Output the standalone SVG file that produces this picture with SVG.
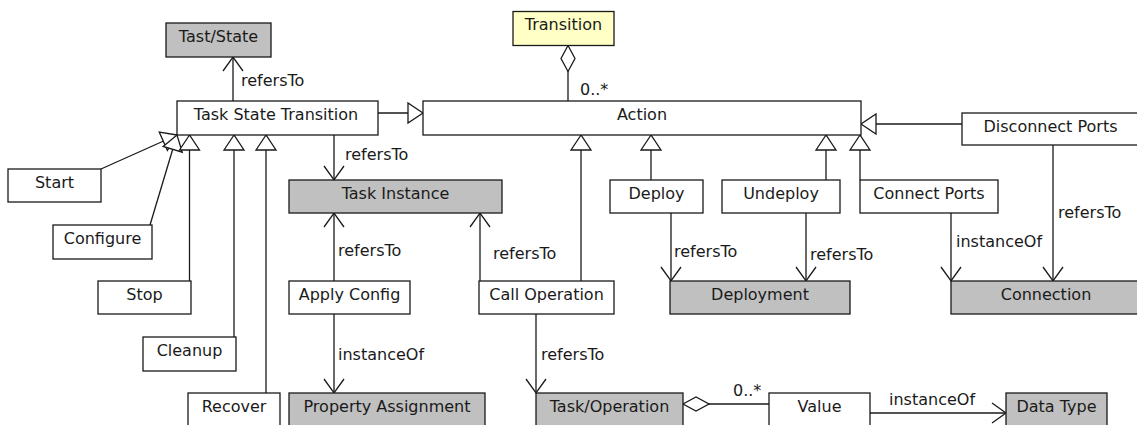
<svg xmlns="http://www.w3.org/2000/svg" width="1137" height="425" viewBox="0 0 1137 425">
  <style>
    .box { fill: #ffffff; stroke: #1a1a1a; stroke-width: 1.3; }
    .ext { fill: #c0c0c0; }
    .trans { fill: #ffffc6; }
    .name { font-family: "DejaVu Sans", sans-serif; font-size: 16px; fill: #1a1a1a; text-anchor: middle; }
    .lbl { font-family: "DejaVu Sans", sans-serif; font-size: 16px; fill: #1a1a1a; }
    .edge { fill: none; stroke: #1a1a1a; stroke-width: 1.3; }
    .ref { marker-end: url(#open); }
    .gen { marker-end: url(#tri); }
    .agg { marker-start: url(#dia); }
  </style>
  <defs>
    <marker id="open" markerUnits="userSpaceOnUse" orient="auto" refX="0" refY="0" markerWidth="30" markerHeight="30" overflow="visible">
      <path d="M-14,-10 L0,0 L-14,10" fill="none" stroke="#1a1a1a" stroke-width="1.3"/>
    </marker>
    <marker id="tri" markerUnits="userSpaceOnUse" orient="auto" refX="0" refY="0" markerWidth="30" markerHeight="30" overflow="visible">
      <path d="M0,0 L-15,-10 L-15,10 Z" fill="#ffffff" stroke="#1a1a1a" stroke-width="1.3"/>
    </marker>
    <marker id="dia" markerUnits="userSpaceOnUse" orient="auto" refX="0" refY="0" markerWidth="30" markerHeight="30" overflow="visible">
      <path d="M0,0 L13,-7 L26,0 L13,7 Z" fill="#ffffff" stroke="#1a1a1a" stroke-width="1.3"/>
    </marker>
  </defs>

  <g id="connectors">
    <!-- references -->
    <line class="edge ref" x1="233" y1="101" x2="233" y2="57"/>
    <line class="edge ref" x1="334" y1="135" x2="334" y2="180"/>
    <line class="edge ref" x1="334" y1="281" x2="334" y2="213"/>
    <line class="edge ref" x1="334" y1="314" x2="334" y2="393"/>
    <line class="edge ref" x1="480" y1="281" x2="480" y2="213"/>
    <line class="edge ref" x1="536" y1="314" x2="536" y2="393"/>
    <line class="edge ref" x1="671" y1="213" x2="671" y2="281"/>
    <line class="edge ref" x1="806" y1="213" x2="806" y2="281"/>
    <line class="edge ref" x1="951" y1="213" x2="951" y2="281"/>
    <line class="edge ref" x1="1053" y1="145" x2="1053" y2="281"/>
    <line class="edge ref" x1="870" y1="413" x2="1006" y2="413"/>
    <!-- generalizations -->
    <line class="edge gen" x1="378" y1="113" x2="423" y2="113"/>
    <line class="edge gen" x1="101" y1="169" x2="177" y2="135"/>
    <line class="edge gen" x1="150" y1="225" x2="177" y2="135"/>
    <line class="edge gen" x1="189.5" y1="281" x2="189.5" y2="135"/>
    <line class="edge gen" x1="234" y1="337" x2="234" y2="135"/>
    <line class="edge gen" x1="266" y1="393" x2="266" y2="135"/>
    <line class="edge gen" x1="581" y1="281" x2="581" y2="135"/>
    <line class="edge gen" x1="651" y1="180" x2="651" y2="135"/>
    <line class="edge gen" x1="826" y1="180" x2="826" y2="135"/>
    <line class="edge gen" x1="860" y1="180" x2="860" y2="135"/>
    <line class="edge gen" x1="962" y1="124" x2="861" y2="124"/>
    <!-- aggregations -->
    <line class="edge agg" x1="568" y1="45.5" x2="568" y2="101"/>
    <line class="edge agg" x1="683" y1="404" x2="769" y2="404"/>
    <!-- labels -->
    <text class="lbl" x="241" y="86">refersTo</text>
    <text class="lbl" x="345" y="160">refersTo</text>
    <text class="lbl" x="338" y="256">refersTo</text>
    <text class="lbl" x="338" y="360">instanceOf</text>
    <text class="lbl" x="493" y="259">refersTo</text>
    <text class="lbl" x="541" y="360">refersTo</text>
    <text class="lbl" x="674" y="257">refersTo</text>
    <text class="lbl" x="810" y="260">refersTo</text>
    <text class="lbl" x="956" y="247">instanceOf</text>
    <text class="lbl" x="1058" y="218">refersTo</text>
    <text class="lbl" x="889" y="405">instanceOf</text>
    <text class="lbl" x="580" y="95">0..*</text>
    <text class="lbl" x="733" y="396">0..*</text>
  </g>

  <g id="tast-state"><rect class="box ext" x="166" y="23" width="105" height="34"/><text class="name" x="218.5" y="41.5">Tast/State</text></g>
  <g id="transition"><rect class="box trans" x="513" y="11.5" width="101" height="34"/><text class="name" x="563.5" y="30">Transition</text></g>
  <g id="task-state-transition"><rect class="box" x="177" y="101" width="201" height="34"/><text class="name" x="276" y="119.5">Task State Transition</text></g>
  <g id="action"><rect class="box" x="423" y="101" width="438" height="34"/><text class="name" x="642" y="119.5">Action</text></g>
  <g id="start"><rect class="box" x="8" y="169" width="93" height="33"/><text class="name" x="54.5" y="187.5">Start</text></g>
  <g id="configure"><rect class="box" x="53" y="225" width="99" height="34"/><text class="name" x="102.5" y="243.5">Configure</text></g>
  <g id="stop"><rect class="box" x="98" y="281" width="93" height="33"/><text class="name" x="144.5" y="299.5">Stop</text></g>
  <g id="cleanup"><rect class="box" x="143" y="337" width="93" height="34"/><text class="name" x="189.5" y="355.5">Cleanup</text></g>
  <g id="recover"><rect class="box" x="188" y="393" width="92" height="34"/><text class="name" x="234" y="411.5">Recover</text></g>
  <g id="task-instance"><rect class="box ext" x="289" y="180" width="213" height="33"/><text class="name" x="395.5" y="198.5">Task Instance</text></g>
  <g id="apply-config"><rect class="box" x="289" y="281" width="121" height="33"/><text class="name" x="349.5" y="299.5">Apply Config</text></g>
  <g id="property-assignment"><rect class="box ext" x="289" y="393" width="196" height="34"/><text class="name" x="387" y="411.5">Property Assignment</text></g>
  <g id="call-operation"><rect class="box" x="479" y="281" width="135" height="33"/><text class="name" x="546.5" y="299.5">Call Operation</text></g>
  <g id="deploy"><rect class="box" x="610" y="180" width="93" height="33"/><text class="name" x="656.5" y="198.5">Deploy</text></g>
  <g id="undeploy"><rect class="box" x="722" y="180" width="118" height="33"/><text class="name" x="781" y="198.5">Undeploy</text></g>
  <g id="connect-ports"><rect class="box" x="860" y="180" width="138" height="33"/><text class="name" x="929" y="198.5">Connect Ports</text></g>
  <g id="disconnect-ports"><rect class="box" x="962" y="113" width="177" height="32"/><text class="name" x="1050.5" y="131.5">Disconnect Ports</text></g>
  <g id="deployment"><rect class="box ext" x="670" y="281" width="180" height="33"/><text class="name" x="760" y="299.5">Deployment</text></g>
  <g id="connection"><rect class="box ext" x="951" y="281" width="190" height="33"/><text class="name" x="1046" y="299.5">Connection</text></g>
  <g id="task-operation"><rect class="box ext" x="536" y="393" width="147" height="34"/><text class="name" x="609.5" y="411.5">Task/Operation</text></g>
  <g id="value"><rect class="box" x="769" y="393" width="101" height="34"/><text class="name" x="819.5" y="411.5">Value</text></g>
  <g id="data-type"><rect class="box ext" x="1006" y="393" width="101" height="34"/><text class="name" x="1056.5" y="411.5">Data Type</text></g>
</svg>
